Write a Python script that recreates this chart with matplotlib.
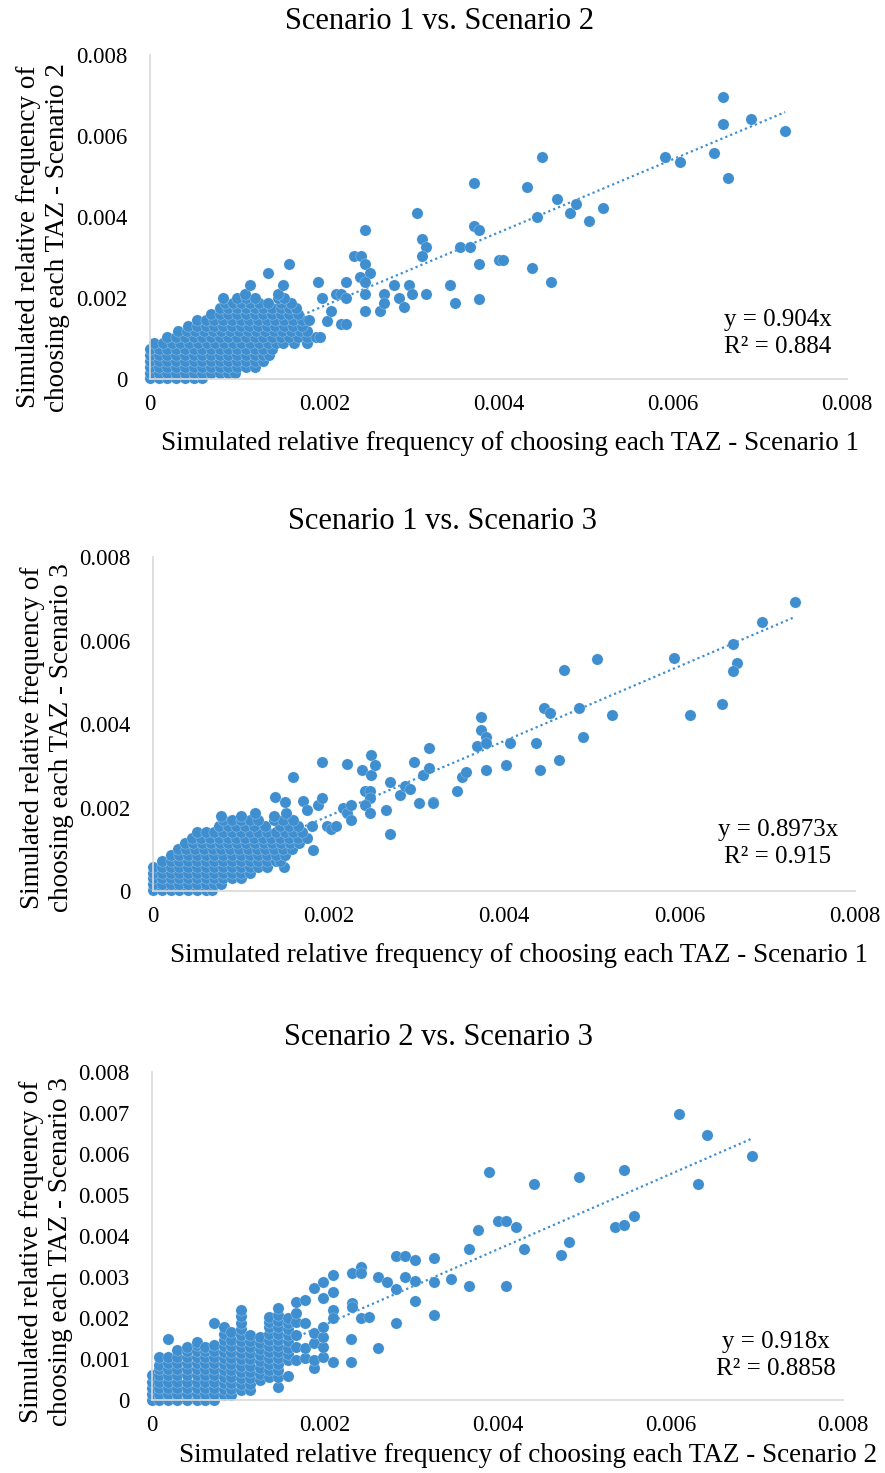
import numpy as np
import matplotlib.pyplot as plt

plt.rcParams['font.family'] = ['Liberation Serif', 'DejaVu Serif']

# points, (x, y) in units of 0.001
s12_points = [
    # dense cloud near the origin
    (0.00, 0.02), (0.10, 0.02), (0.20, 0.02), (0.30, 0.02), (0.40, 0.02), (0.50, 0.02), (0.60, 0.02),
    (0.00, 0.15), (0.10, 0.15), (0.20, 0.15), (0.30, 0.15), (0.40, 0.15), (0.50, 0.15), (0.60, 0.15),
    (0.70, 0.15), (0.80, 0.15), (0.90, 0.15), (0.98, 0.15),
    (0.00, 0.30), (0.10, 0.30), (0.20, 0.30), (0.30, 0.30), (0.40, 0.30), (0.50, 0.30), (0.60, 0.30),
    (0.70, 0.30), (0.80, 0.30), (0.90, 0.30), (1.00, 0.30), (1.10, 0.30), (1.20, 0.30),
    (0.00, 0.45), (0.10, 0.45), (0.20, 0.45), (0.30, 0.45), (0.40, 0.45), (0.50, 0.45), (0.60, 0.45),
    (0.70, 0.45), (0.80, 0.45), (0.90, 0.45), (1.00, 0.45), (1.10, 0.45), (1.20, 0.45), (1.30, 0.45),
    (0.00, 0.60), (0.10, 0.60), (0.20, 0.60), (0.30, 0.60), (0.40, 0.60), (0.50, 0.60), (0.60, 0.60),
    (0.70, 0.60), (0.80, 0.60), (0.90, 0.60), (1.00, 0.60), (1.10, 0.60), (1.20, 0.60), (1.30, 0.60),
    (1.37, 0.60),
    (0.00, 0.75), (0.10, 0.75), (0.20, 0.75), (0.30, 0.75), (0.40, 0.75), (0.50, 0.75), (0.60, 0.75),
    (0.70, 0.75), (0.80, 0.75), (0.90, 0.75), (1.00, 0.75), (1.10, 0.75), (1.20, 0.75), (1.30, 0.75),
    (1.40, 0.75),
    (0.05, 0.90), (0.15, 0.90), (0.25, 0.90), (0.35, 0.90), (0.45, 0.90), (0.55, 0.90), (0.65, 0.90),
    (0.75, 0.90), (0.85, 0.90), (0.95, 0.90), (1.05, 0.90), (1.15, 0.90), (1.25, 0.90), (1.35, 0.90),
    (1.45, 0.90), (1.53, 0.90), (1.65, 0.90), (1.80, 0.90),
    (0.20, 1.04), (0.30, 1.04), (0.40, 1.04), (0.50, 1.04), (0.60, 1.04), (0.70, 1.04), (0.80, 1.04),
    (0.90, 1.04), (1.00, 1.04), (1.10, 1.04), (1.20, 1.04), (1.30, 1.04), (1.40, 1.04), (1.50, 1.04),
    (1.60, 1.04), (1.70, 1.04), (1.80, 1.04), (1.90, 1.04), (1.95, 1.04),
    (0.32, 1.18), (0.42, 1.18), (0.52, 1.18), (0.62, 1.18), (0.72, 1.18), (0.82, 1.18), (0.92, 1.18),
    (1.02, 1.18), (1.12, 1.18), (1.22, 1.18), (1.32, 1.18), (1.42, 1.18), (1.52, 1.18), (1.62, 1.18),
    (1.72, 1.18), (1.80, 1.18),
    (0.44, 1.32), (0.54, 1.32), (0.64, 1.32), (0.74, 1.32), (0.84, 1.32), (0.94, 1.32), (1.04, 1.32),
    (1.14, 1.32), (1.24, 1.32), (1.34, 1.32), (1.44, 1.32), (1.54, 1.32), (1.64, 1.32), (1.74, 1.32),
    (0.54, 1.46), (0.64, 1.46), (0.74, 1.46), (0.84, 1.46), (0.94, 1.46), (1.04, 1.46), (1.14, 1.46),
    (1.24, 1.46), (1.34, 1.46), (1.44, 1.46), (1.54, 1.46), (1.64, 1.46), (1.74, 1.46), (1.82, 1.46),
    (0.70, 1.60), (0.80, 1.60), (0.90, 1.60), (1.00, 1.60), (1.10, 1.60), (1.20, 1.60), (1.30, 1.60),
    (1.40, 1.60), (1.50, 1.60), (1.60, 1.60), (1.70, 1.60),
    (0.80, 1.75), (0.90, 1.75), (1.00, 1.75), (1.10, 1.75), (1.20, 1.75), (1.30, 1.75), (1.40, 1.75),
    (1.50, 1.75), (1.60, 1.75), (1.68, 1.75),
    (0.86, 1.88), (0.95, 1.88), (1.05, 1.88), (1.15, 1.88), (1.25, 1.88), (1.35, 1.88), (1.50, 1.88),
    (1.62, 1.88),
    (0.84, 2.00), (1.00, 2.00), (1.10, 2.00), (1.20, 2.00), (1.47, 2.00), (1.54, 2.00),
    (1.09, 2.10), (1.47, 2.10), (1.15, 2.32), (1.53, 2.32),
    # scattered points
    (1.36, 2.62), (1.59, 2.85), (1.93, 2.40), (1.97, 1.99), (2.03, 1.44), (2.08, 1.67), (2.13, 2.10),
    (2.19, 2.10), (2.25, 1.99), (2.25, 2.40), (2.19, 1.35), (2.25, 1.35), (2.34, 3.04), (2.42, 3.04),
    (2.47, 3.68), (2.47, 2.85), (2.52, 2.62), (2.41, 2.51), (2.47, 2.40), (2.47, 2.10), (2.47, 1.67),
    (2.64, 1.67), (2.69, 2.10), (2.69, 1.87), (2.80, 2.32), (2.86, 1.99), (2.91, 1.79), (2.97, 2.32),
    (3.01, 2.10), (3.07, 4.11), (3.12, 3.46), (3.17, 3.27), (3.12, 3.04), (3.17, 2.10), (3.44, 2.32),
    (3.50, 1.88), (3.56, 3.27), (3.67, 3.27), (3.72, 4.85), (3.72, 3.79), (3.78, 3.68), (3.78, 2.85),
    (3.78, 1.98), (4.00, 2.93), (4.05, 2.93), (4.33, 4.75), (4.38, 2.73), (4.44, 3.99), (4.50, 5.47),
    (4.60, 2.40), (4.67, 4.44), (4.82, 4.10), (4.89, 4.32), (5.04, 3.91), (5.20, 4.21), (5.91, 5.47),
    (6.08, 5.37), (6.47, 5.59), (6.58, 6.96), (6.58, 6.30), (6.63, 4.97), (6.90, 6.42), (7.29, 6.12),
]

s13_points = [
    # dense cloud near the origin
    (0.00, 0.02), (0.10, 0.02), (0.20, 0.02), (0.30, 0.02), (0.40, 0.02), (0.50, 0.02), (0.60, 0.02),
    (0.67, 0.02),
    (0.00, 0.16), (0.10, 0.16), (0.20, 0.16), (0.30, 0.16), (0.40, 0.16), (0.50, 0.16), (0.60, 0.16),
    (0.70, 0.16), (0.78, 0.16),
    (0.00, 0.30), (0.10, 0.30), (0.20, 0.30), (0.30, 0.30), (0.40, 0.30), (0.50, 0.30), (0.60, 0.30),
    (0.70, 0.30), (0.80, 0.30), (0.90, 0.30), (1.00, 0.30),
    (0.00, 0.44), (0.10, 0.44), (0.20, 0.44), (0.30, 0.44), (0.40, 0.44), (0.50, 0.44), (0.60, 0.44),
    (0.70, 0.44), (0.80, 0.44), (0.90, 0.44), (1.00, 0.44), (1.10, 0.44),
    (0.00, 0.58), (0.10, 0.58), (0.20, 0.58), (0.30, 0.58), (0.40, 0.58), (0.50, 0.58), (0.60, 0.58),
    (0.70, 0.58), (0.80, 0.58), (0.90, 0.58), (1.00, 0.58), (1.10, 0.58), (1.20, 0.58), (1.30, 0.58),
    (1.49, 0.58),
    (0.10, 0.72), (0.20, 0.72), (0.30, 0.72), (0.40, 0.72), (0.50, 0.72), (0.60, 0.72), (0.70, 0.72),
    (0.80, 0.72), (0.90, 0.72), (1.00, 0.72), (1.10, 0.72), (1.20, 0.72), (1.30, 0.72), (1.40, 0.72),
    (1.45, 0.72),
    (0.20, 0.86), (0.30, 0.86), (0.40, 0.86), (0.50, 0.86), (0.60, 0.86), (0.70, 0.86), (0.80, 0.86),
    (0.90, 0.86), (1.00, 0.86), (1.10, 0.86), (1.20, 0.86), (1.30, 0.86), (1.40, 0.86), (1.50, 0.86),
    (0.28, 1.00), (0.38, 1.00), (0.48, 1.00), (0.58, 1.00), (0.68, 1.00), (0.78, 1.00), (0.88, 1.00),
    (0.98, 1.00), (1.08, 1.00), (1.18, 1.00), (1.28, 1.00), (1.38, 1.00), (1.48, 1.00), (1.58, 1.00),
    (1.82, 0.98),
    (0.36, 1.14), (0.46, 1.14), (0.56, 1.14), (0.66, 1.14), (0.76, 1.14), (0.86, 1.14), (0.96, 1.14),
    (1.06, 1.14), (1.16, 1.14), (1.26, 1.14), (1.36, 1.14), (1.46, 1.14), (1.56, 1.14), (1.66, 1.14),
    (0.45, 1.28), (0.55, 1.28), (0.65, 1.28), (0.75, 1.28), (0.85, 1.28), (0.95, 1.28), (1.05, 1.28),
    (1.15, 1.28), (1.25, 1.28), (1.35, 1.28), (1.45, 1.28), (1.55, 1.28), (1.65, 1.28), (1.75, 1.28),
    (0.50, 1.42), (0.60, 1.42), (0.70, 1.42), (0.80, 1.42), (0.90, 1.42), (1.00, 1.42), (1.10, 1.42),
    (1.20, 1.42), (1.30, 1.42), (1.40, 1.42), (1.50, 1.42), (1.60, 1.42), (1.70, 1.42),
    (0.75, 1.56), (0.85, 1.56), (0.95, 1.56), (1.05, 1.56), (1.15, 1.56), (1.28, 1.56), (1.45, 1.56),
    (1.55, 1.56), (1.65, 1.56), (1.81, 1.56),
    (0.80, 1.70), (0.90, 1.70), (1.00, 1.70), (1.10, 1.70), (1.20, 1.70), (1.38, 1.70), (1.48, 1.70),
    (1.60, 1.70),
    (0.77, 1.80), (1.00, 1.80), (1.16, 1.86), (1.38, 1.80), (1.52, 1.86),
    # scattered points
    (1.39, 2.24), (1.50, 2.14), (1.59, 2.73), (1.71, 2.16), (1.75, 1.94), (1.88, 2.05), (1.93, 2.22),
    (1.93, 3.08), (1.98, 1.56), (2.03, 1.48), (2.09, 1.56), (2.16, 1.99), (2.21, 1.88), (2.26, 2.05),
    (2.26, 1.70), (2.21, 3.03), (2.38, 2.90), (2.42, 2.40), (2.47, 2.40), (2.47, 2.22), (2.42, 2.05),
    (2.47, 1.88), (2.48, 3.26), (2.48, 2.78), (2.53, 3.01), (2.65, 1.94), (2.70, 2.62), (2.70, 1.37),
    (2.81, 2.30), (2.87, 2.52), (2.93, 2.44), (2.97, 3.09), (3.03, 2.10), (3.08, 2.78), (3.15, 3.42),
    (3.15, 2.94), (3.19, 2.14), (3.19, 2.10), (3.47, 2.40), (3.52, 2.72), (3.57, 2.85), (3.69, 3.47),
    (3.74, 4.16), (3.74, 3.86), (3.79, 3.70), (3.79, 3.54), (3.79, 2.90), (4.02, 3.01), (4.07, 3.54),
    (4.36, 3.54), (4.41, 2.90), (4.46, 4.38), (4.52, 4.27), (4.63, 3.14), (4.68, 5.29), (4.85, 4.38),
    (4.90, 3.70), (5.06, 5.56), (5.23, 4.22), (5.94, 5.59), (6.12, 4.22), (6.49, 4.48), (6.61, 5.92),
    (6.66, 5.45), (6.61, 5.28), (6.94, 6.44), (7.32, 6.92),
]

s23_points = [
    # dense columns near the origin
    (0.00, 0.00), (0.00, 0.15), (0.00, 0.30), (0.00, 0.45), (0.00, 0.60),
    (0.08, 0.00), (0.08, 0.15), (0.08, 0.30), (0.08, 0.45), (0.08, 0.60), (0.08, 0.75), (0.08, 0.85),
    (0.08, 1.06),
    (0.19, 0.00), (0.19, 0.15), (0.19, 0.30), (0.19, 0.45), (0.19, 0.60), (0.19, 0.75), (0.19, 0.90),
    (0.19, 1.06), (0.19, 1.50),
    (0.29, 0.00), (0.29, 0.15), (0.29, 0.30), (0.29, 0.45), (0.29, 0.60), (0.29, 0.75), (0.29, 0.90),
    (0.29, 1.05), (0.29, 1.22),
    (0.40, 0.00), (0.40, 0.15), (0.40, 0.30), (0.40, 0.45), (0.40, 0.60), (0.40, 0.75), (0.40, 0.90),
    (0.40, 1.05), (0.40, 1.20), (0.40, 1.30),
    (0.52, 0.00), (0.52, 0.15), (0.52, 0.30), (0.52, 0.45), (0.52, 0.60), (0.52, 0.75), (0.52, 0.90),
    (0.52, 1.05), (0.52, 1.20), (0.52, 1.35), (0.52, 1.42),
    (0.61, 0.00), (0.61, 0.15), (0.61, 0.30), (0.61, 0.45), (0.61, 0.60), (0.61, 0.75), (0.61, 0.90),
    (0.61, 1.05), (0.61, 1.20), (0.61, 1.30),
    (0.72, 0.00), (0.72, 0.15), (0.72, 0.30), (0.72, 0.45), (0.72, 0.60), (0.72, 0.75), (0.72, 0.90),
    (0.72, 1.05), (0.72, 1.20), (0.72, 1.35), (0.72, 1.89),
    (0.83, 0.12), (0.83, 0.27), (0.83, 0.42), (0.83, 0.57), (0.83, 0.72), (0.83, 0.87), (0.83, 1.02),
    (0.83, 1.17), (0.83, 1.32), (0.83, 1.47), (0.83, 1.62), (0.83, 1.79),
    (0.92, 0.12), (0.92, 0.27), (0.92, 0.42), (0.92, 0.57), (0.92, 0.72), (0.92, 0.87), (0.92, 1.02),
    (0.92, 1.17), (0.92, 1.32), (0.92, 1.47), (0.92, 1.66),
    (1.03, 0.24), (1.03, 0.39), (1.03, 0.54), (1.03, 0.69), (1.03, 0.84), (1.03, 0.99), (1.03, 1.14),
    (1.03, 1.29), (1.03, 1.44), (1.03, 1.59), (1.03, 1.74), (1.03, 1.89), (1.03, 2.04), (1.03, 2.20),
    (1.13, 0.24), (1.13, 0.39), (1.13, 0.54), (1.13, 0.69), (1.13, 0.84), (1.13, 0.99), (1.13, 1.14),
    (1.13, 1.29), (1.13, 1.44), (1.13, 1.59),
    (1.25, 0.49), (1.25, 0.64), (1.25, 0.79), (1.25, 0.94), (1.25, 1.09), (1.25, 1.24), (1.25, 1.39),
    (1.25, 1.54),
    (1.36, 0.57), (1.36, 0.72), (1.36, 0.87), (1.36, 1.02), (1.36, 1.17), (1.36, 1.32), (1.36, 1.47),
    (1.36, 1.62), (1.36, 1.77), (1.36, 1.90), (1.36, 2.03),
    (1.46, 0.32), (1.46, 0.57), (1.46, 0.72), (1.46, 0.87), (1.46, 1.02), (1.46, 1.17), (1.46, 1.32),
    (1.46, 1.47), (1.46, 1.62), (1.46, 1.77), (1.46, 1.92), (1.46, 2.08), (1.46, 2.24),
    (1.57, 0.59), (1.57, 0.98), (1.57, 1.13), (1.57, 1.28), (1.57, 1.43), (1.57, 1.58), (1.57, 1.73),
    (1.57, 1.88), (1.57, 2.00),
    (1.67, 0.98), (1.67, 1.30), (1.67, 1.59), (1.67, 1.91), (1.67, 2.11),
    (1.77, 1.02), (1.77, 1.26), (1.77, 1.89),
    (1.88, 0.77), (1.88, 0.98), (1.88, 1.38), (1.88, 1.63),
    (1.98, 1.06), (1.98, 1.30), (1.98, 1.54), (1.98, 1.79),
    # scattered points
    (1.67, 2.40), (1.77, 2.45), (1.88, 2.72), (1.98, 2.50), (1.98, 2.89), (2.09, 3.05), (2.09, 2.63),
    (2.09, 2.20), (2.09, 1.99), (2.09, 0.92), (2.30, 1.50), (2.30, 0.92), (2.31, 3.09), (2.31, 2.37),
    (2.31, 2.27), (2.42, 3.25), (2.42, 3.09), (2.42, 1.99), (2.51, 2.02), (2.62, 3.01), (2.62, 1.28),
    (2.72, 2.89), (2.82, 3.52), (2.82, 2.70), (2.82, 1.87), (2.93, 3.52), (2.93, 3.01), (3.05, 3.41),
    (3.05, 2.90), (3.05, 2.41), (3.26, 3.47), (3.26, 2.88), (3.26, 2.07), (3.46, 2.95), (3.67, 3.69),
    (3.67, 2.78), (3.78, 4.15), (3.90, 5.55), (4.00, 4.37), (4.10, 4.37), (4.10, 2.78), (4.21, 4.21),
    (4.31, 3.69), (4.42, 5.28), (4.73, 3.53), (4.83, 3.85), (4.94, 5.45), (5.36, 4.22), (5.47, 4.27),
    (5.47, 5.61), (5.58, 4.49), (6.10, 6.97), (6.32, 5.28), (6.42, 6.46), (6.95, 5.94),
]

slopes = [0.904, 0.8973, 0.918]
r_squared = ['0.884', '0.915', '0.8858']
titles = ['Scenario 1 vs. Scenario 2', 'Scenario 1 vs. Scenario 3', 'Scenario 2 vs. Scenario 3']
xlabels = ['Simulated relative frequency of choosing each TAZ - Scenario 1',
           'Simulated relative frequency of choosing each TAZ - Scenario 1',
           'Simulated relative frequency of choosing each TAZ - Scenario 2']
ylabels = ['Simulated relative frequency of\nchoosing each TAZ - Scenario 2',
           'Simulated relative frequency of\nchoosing each TAZ - Scenario 3',
           'Simulated relative frequency of\nchoosing each TAZ - Scenario 3']
xticks = [0, 0.002, 0.004, 0.006, 0.008]
yticks = [[0, 0.002, 0.004, 0.006, 0.008],
          [0, 0.002, 0.004, 0.006, 0.008],
          [0, 0.001, 0.002, 0.003, 0.004, 0.005, 0.006, 0.007, 0.008]]

blue = '#3f8fd0'
W, H = 885, 1473

# plot boxes in pixels: left, top, right, bottom
boxes = [(150, 55, 847, 379), (153, 557, 855, 891), (152, 1072, 843, 1400)]
# text spots in axes fraction
title_xy = [(0.415, 1.102), (0.412, 1.105), (0.414, 1.104)]
xlabel_xy = [(0.516, -0.198), (0.521, -0.192), (0.544, -0.168)]
ylabel_xy = [(-0.153, 0.438), (-0.151, 0.458), (-0.153, 0.451)]
eq_xy = [(0.901, 0.182, 0.099), (0.890, 0.183, 0.102), (0.903, 0.177, 0.095)]

fig = plt.figure(figsize=(W / 100, H / 100), dpi=100)
all_points = [s12_points, s13_points, s23_points]

for i in range(3):
    l, t, r, b = boxes[i]
    ax = fig.add_axes([l / W, 1 - b / H, (r - l) / W, (b - t) / H])
    pts = np.array(all_points[i]) / 1000.0
    x, y = pts[:, 0], pts[:, 1]

    xx = np.array([0, x.max()])
    ax.plot(xx, slopes[i] * xx, color=blue, lw=1.6, ls=(0, (1, 1.4)), zorder=1)
    ax.scatter(x, y, s=66, color=blue, edgecolors=(1, 1, 1, 0.5), linewidths=0.3,
               zorder=2, clip_on=False)

    ax.set_xlim(0, 0.008)
    ax.set_ylim(0, 0.008)
    ax.set_xticks(xticks)
    ax.set_yticks(yticks[i])
    ax.set_xticklabels(['%g' % v for v in xticks])
    ax.set_yticklabels(['%g' % v for v in yticks[i]])
    ax.tick_params(length=0, labelsize=16.5)
    ax.tick_params(axis='y', pad=16)
    ax.tick_params(axis='x', pad=11)
    for s in ['top', 'right']:
        ax.spines[s].set_visible(False)
    for s in ['left', 'bottom']:
        ax.spines[s].set_color('#d9d9d9')
        ax.spines[s].set_linewidth(1.2)

    ax.set_title(titles[i], fontsize=22, x=title_xy[i][0], y=title_xy[i][1],
                 va='center', pad=0)
    ax.set_xlabel(xlabels[i], fontsize=19.5)
    ax.xaxis.set_label_coords(*xlabel_xy[i])
    ax.xaxis.label.set_verticalalignment('center')
    ax.set_ylabel(ylabels[i], fontsize=19.5)
    ax.yaxis.set_label_coords(*ylabel_xy[i])
    ax.yaxis.label.set_verticalalignment('center')

    ex, ey1, ey2 = eq_xy[i]
    ax.text(ex, ey1, 'y = %sx' % slopes[i], transform=ax.transAxes,
            ha='center', va='center', fontsize=18)
    ax.text(ex, ey2, 'R² = %s' % r_squared[i], transform=ax.transAxes,
            ha='center', va='center', fontsize=18)

fig.savefig('out.png', dpi=100, facecolor='white')
